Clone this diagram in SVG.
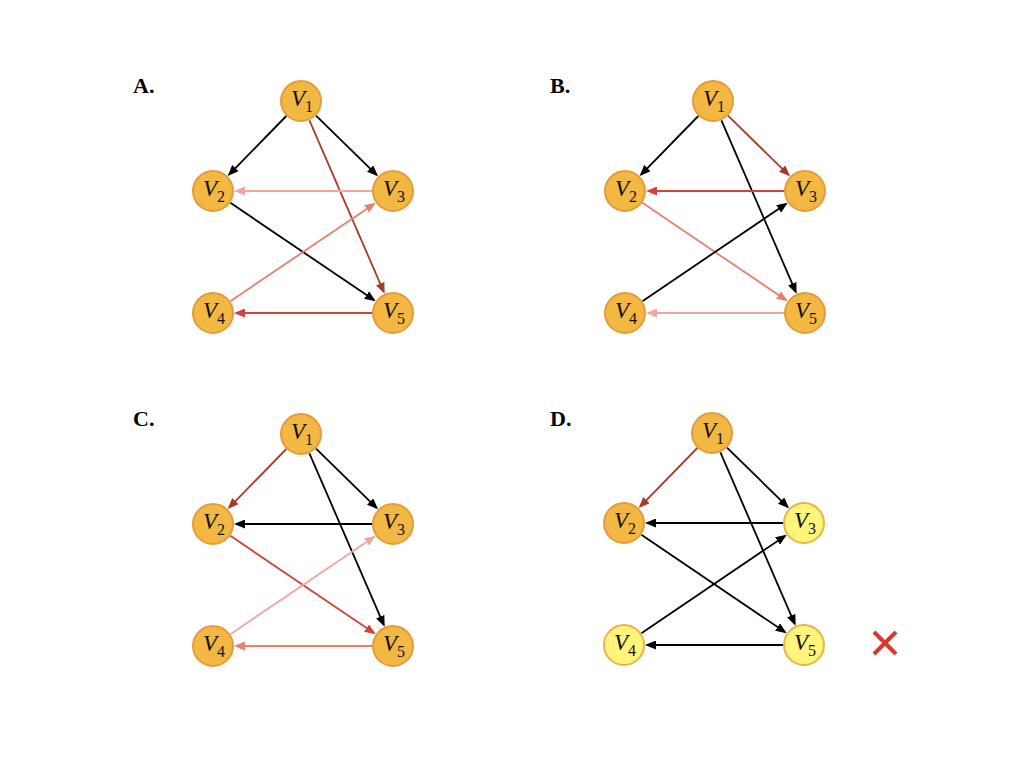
<svg xmlns="http://www.w3.org/2000/svg" width="1024" height="768" viewBox="0 0 1024 768">
<style>
.lbl{font-family:"Liberation Serif","Times New Roman",serif;font-weight:bold;font-size:22px;fill:#000}
.nd{fill:#F2B843;stroke:#E69B38;stroke-width:2}
.ndl{fill:#FFF47C;stroke:#EDB244;stroke-width:2}
.nt{font-family:"Liberation Serif","Times New Roman",serif;font-size:23px;fill:#111;text-anchor:middle}
.nt .v{font-style:italic}
.nt .s{font-size:16px}
.e{fill:none;stroke-width:1.8}
.k{stroke:#000;marker-end:url(#mk)}
.dr{stroke:#A83A2A;marker-end:url(#mdr)}
.r{stroke:#D2433A;marker-end:url(#mr)}
.sa{stroke:#E8806F;marker-end:url(#msa)}
.p{stroke:#F0A89E;marker-end:url(#mp)}
</style>
<defs>
<marker id="mk" markerUnits="userSpaceOnUse" markerWidth="11" markerHeight="9" refX="9" refY="4.5" orient="auto"><path d="M0,0 L11,4.5 L0,9 z" fill="#000"/></marker>
<marker id="mdr" markerUnits="userSpaceOnUse" markerWidth="11" markerHeight="9" refX="9" refY="4.5" orient="auto"><path d="M0,0 L11,4.5 L0,9 z" fill="#A83A2A"/></marker>
<marker id="mr" markerUnits="userSpaceOnUse" markerWidth="11" markerHeight="9" refX="9" refY="4.5" orient="auto"><path d="M0,0 L11,4.5 L0,9 z" fill="#D2433A"/></marker>
<marker id="msa" markerUnits="userSpaceOnUse" markerWidth="11" markerHeight="9" refX="9" refY="4.5" orient="auto"><path d="M0,0 L11,4.5 L0,9 z" fill="#E8806F"/></marker>
<marker id="mp" markerUnits="userSpaceOnUse" markerWidth="11" markerHeight="9" refX="9" refY="4.5" orient="auto"><path d="M0,0 L11,4.5 L0,9 z" fill="#F0A89E"/></marker>
</defs>
<rect width="1024" height="768" fill="#fff"/>

<text class="lbl" x="133" y="93">A.</text>
<text class="lbl" x="550" y="93">B.</text>
<text class="lbl" x="133" y="426">C.</text>
<text class="lbl" x="550" y="426">D.</text>

<!-- Panel A -->
<g id="panelA">
<g id="A-connectors">
<line class="e k" x1="286.3" y1="116" x2="229.1" y2="174.6"/>
<line class="e k" x1="316" y1="115.7" x2="376.6" y2="174.9"/>
<line class="e dr" x1="309.4" y1="120.3" x2="383.8" y2="291.9"/>
<line class="e p" x1="372" y1="191" x2="236" y2="191"/>
<line class="e k" x1="230.4" y1="202.8" x2="374" y2="300.1"/>
<line class="e sa" x1="230.4" y1="301.2" x2="374" y2="203.9"/>
<line class="e r" x1="372" y1="313" x2="236" y2="313"/>
</g>
<g id="A-V1"><circle class="nd" cx="301" cy="101" r="20"/><text class="nt" x="302" y="106"><tspan class="v">V</tspan><tspan class="s" dy="6">1</tspan></text></g>
<g id="A-V2"><circle class="nd" cx="213" cy="191" r="20"/><text class="nt" x="214" y="196"><tspan class="v">V</tspan><tspan class="s" dy="6">2</tspan></text></g>
<g id="A-V3"><circle class="nd" cx="393" cy="191" r="20"/><text class="nt" x="394" y="196"><tspan class="v">V</tspan><tspan class="s" dy="6">3</tspan></text></g>
<g id="A-V4"><circle class="nd" cx="213" cy="313" r="20"/><text class="nt" x="214" y="318"><tspan class="v">V</tspan><tspan class="s" dy="6">4</tspan></text></g>
<g id="A-V5"><circle class="nd" cx="393" cy="313" r="20"/><text class="nt" x="394" y="318"><tspan class="v">V</tspan><tspan class="s" dy="6">5</tspan></text></g>
</g>

<!-- Panel B -->
<g id="panelB" transform="translate(412,0)">
<g id="B-connectors">
<line class="e k" x1="286.3" y1="116" x2="229.1" y2="174.6"/>
<line class="e dr" x1="316" y1="115.7" x2="376.6" y2="174.9"/>
<line class="e k" x1="309.4" y1="120.3" x2="383.8" y2="291.9"/>
<line class="e r" x1="372" y1="191" x2="236" y2="191"/>
<line class="e sa" x1="230.4" y1="202.8" x2="374" y2="300.1"/>
<line class="e k" x1="230.4" y1="301.2" x2="374" y2="203.9"/>
<line class="e p" x1="372" y1="313" x2="236" y2="313"/>
</g>
<g id="B-V1"><circle class="nd" cx="301" cy="101" r="20"/><text class="nt" x="302" y="106"><tspan class="v">V</tspan><tspan class="s" dy="6">1</tspan></text></g>
<g id="B-V2"><circle class="nd" cx="213" cy="191" r="20"/><text class="nt" x="214" y="196"><tspan class="v">V</tspan><tspan class="s" dy="6">2</tspan></text></g>
<g id="B-V3"><circle class="nd" cx="393" cy="191" r="20"/><text class="nt" x="394" y="196"><tspan class="v">V</tspan><tspan class="s" dy="6">3</tspan></text></g>
<g id="B-V4"><circle class="nd" cx="213" cy="313" r="20"/><text class="nt" x="214" y="318"><tspan class="v">V</tspan><tspan class="s" dy="6">4</tspan></text></g>
<g id="B-V5"><circle class="nd" cx="393" cy="313" r="20"/><text class="nt" x="394" y="318"><tspan class="v">V</tspan><tspan class="s" dy="6">5</tspan></text></g>
</g>

<!-- Panel C -->
<g id="panelC" transform="translate(0,333)">
<g id="C-connectors">
<line class="e dr" x1="286.3" y1="116" x2="229.1" y2="174.6"/>
<line class="e k" x1="316" y1="115.7" x2="376.6" y2="174.9"/>
<line class="e k" x1="309.4" y1="120.3" x2="383.8" y2="291.9"/>
<line class="e k" x1="372" y1="191" x2="236" y2="191"/>
<line class="e r" x1="230.4" y1="202.8" x2="374" y2="300.1"/>
<line class="e p" x1="230.4" y1="301.2" x2="374" y2="203.9"/>
<line class="e sa" x1="372" y1="313" x2="236" y2="313"/>
</g>
<g id="C-V1"><circle class="nd" cx="301" cy="101" r="20"/><text class="nt" x="302" y="106"><tspan class="v">V</tspan><tspan class="s" dy="6">1</tspan></text></g>
<g id="C-V2"><circle class="nd" cx="213" cy="191" r="20"/><text class="nt" x="214" y="196"><tspan class="v">V</tspan><tspan class="s" dy="6">2</tspan></text></g>
<g id="C-V3"><circle class="nd" cx="393" cy="191" r="20"/><text class="nt" x="394" y="196"><tspan class="v">V</tspan><tspan class="s" dy="6">3</tspan></text></g>
<g id="C-V4"><circle class="nd" cx="213" cy="313" r="20"/><text class="nt" x="214" y="318"><tspan class="v">V</tspan><tspan class="s" dy="6">4</tspan></text></g>
<g id="C-V5"><circle class="nd" cx="393" cy="313" r="20"/><text class="nt" x="394" y="318"><tspan class="v">V</tspan><tspan class="s" dy="6">5</tspan></text></g>
</g>

<!-- Panel D -->
<g id="panelD" transform="translate(411,332)">
<g id="D-connectors">
<line class="e dr" x1="286.3" y1="116" x2="229.1" y2="174.6"/>
<line class="e k" x1="316" y1="115.7" x2="376.6" y2="174.9"/>
<line class="e k" x1="309.4" y1="120.3" x2="383.8" y2="291.9"/>
<line class="e k" x1="372" y1="191" x2="236" y2="191"/>
<line class="e k" x1="230.4" y1="202.8" x2="374" y2="300.1"/>
<line class="e k" x1="230.4" y1="301.2" x2="374" y2="203.9"/>
<line class="e k" x1="372" y1="313" x2="236" y2="313"/>
</g>
<g id="D-V1"><circle class="nd" cx="301" cy="101" r="20"/><text class="nt" x="302" y="106"><tspan class="v">V</tspan><tspan class="s" dy="6">1</tspan></text></g>
<g id="D-V2"><circle class="nd" cx="213" cy="191" r="20"/><text class="nt" x="214" y="196"><tspan class="v">V</tspan><tspan class="s" dy="6">2</tspan></text></g>
<g id="D-V3"><circle class="ndl" cx="393" cy="191" r="20"/><text class="nt" x="394" y="196"><tspan class="v">V</tspan><tspan class="s" dy="6">3</tspan></text></g>
<g id="D-V4"><circle class="ndl" cx="213" cy="313" r="20"/><text class="nt" x="214" y="318"><tspan class="v">V</tspan><tspan class="s" dy="6">4</tspan></text></g>
<g id="D-V5"><circle class="ndl" cx="393" cy="313" r="20"/><text class="nt" x="394" y="318"><tspan class="v">V</tspan><tspan class="s" dy="6">5</tspan></text></g>
</g>

<g id="cross" stroke="#D63A2E" stroke-width="4" stroke-linecap="butt">
<line x1="874" y1="632" x2="896" y2="654"/>
<line x1="896" y1="632" x2="874" y2="654"/>
</g>
</svg>
